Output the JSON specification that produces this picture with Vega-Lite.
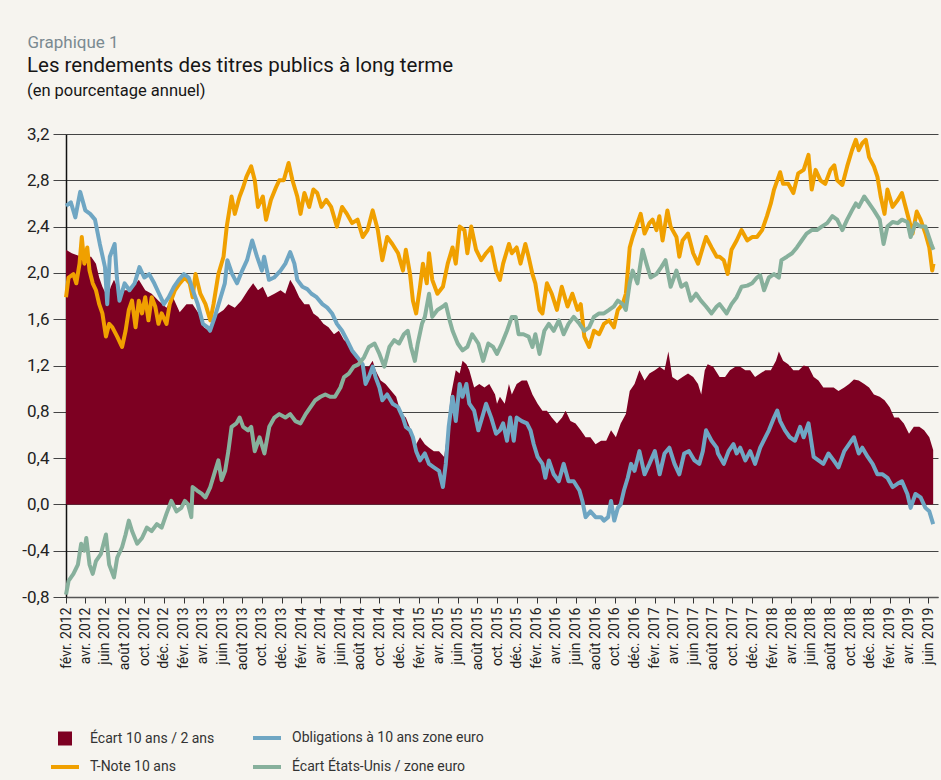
{
  "$schema": "https://vega.github.io/schema/vega-lite/v6.json",
  "width": 872,
  "height": 463,
  "autosize": {"type": "none"},
  "padding": {"left": 66, "top": 134, "right": 3, "bottom": 183},
  "background": "#f6f4ef",
  "title": {
    "text": "Les rendements des titres publics à long terme",
    "subtitle": "(en pourcentage annuel)",
    "anchor": "start",
    "frame": "group",
    "dx": -39,
    "offset": -66,
    "font": "Roboto",
    "fontSize": 20.5,
    "fontWeight": "normal",
    "color": "#161616",
    "subtitleFont": "Roboto",
    "subtitleFontSize": 16.5,
    "subtitleColor": "#161616",
    "subtitlePadding": 6
  },
  "datasets": {
    "ecart": [
      {"d":"2012-02-01","v":2.20},{"d":"2012-02-19","v":2.17},{"d":"2012-03-09","v":2.15},{"d":"2012-03-29","v":2.14},{"d":"2012-04-19","v":2.14},{"d":"2012-05-04","v":2.08},{"d":"2012-05-14","v":1.96},{"d":"2012-05-24","v":1.88},{"d":"2012-06-09","v":1.79},{"d":"2012-06-19","v":1.88},{"d":"2012-06-29","v":1.94},{"d":"2012-07-09","v":1.88},{"d":"2012-07-19","v":1.79},{"d":"2012-07-29","v":1.85},{"d":"2012-08-19","v":1.85},{"d":"2012-09-14","v":1.94},{"d":"2012-10-04","v":1.85},{"d":"2012-10-24","v":1.82},{"d":"2012-11-14","v":1.76},{"d":"2012-12-09","v":1.70},{"d":"2012-12-29","v":1.79},{"d":"2013-01-19","v":1.66},{"d":"2013-02-09","v":1.73},{"d":"2013-02-28","v":1.73},{"d":"2013-03-19","v":1.65},{"d":"2013-04-04","v":1.53},{"d":"2013-04-19","v":1.50},{"d":"2013-05-04","v":1.62},{"d":"2013-05-19","v":1.65},{"d":"2013-06-04","v":1.68},{"d":"2013-06-19","v":1.73},{"d":"2013-07-09","v":1.70},{"d":"2013-07-29","v":1.76},{"d":"2013-08-19","v":1.85},{"d":"2013-09-04","v":1.91},{"d":"2013-09-19","v":1.85},{"d":"2013-10-04","v":1.88},{"d":"2013-10-19","v":1.79},{"d":"2013-11-09","v":1.82},{"d":"2013-11-28","v":1.85},{"d":"2013-12-13","v":1.82},{"d":"2013-12-28","v":1.94},{"d":"2014-01-10","v":1.88},{"d":"2014-01-25","v":1.79},{"d":"2014-02-10","v":1.73},{"d":"2014-02-25","v":1.73},{"d":"2014-03-10","v":1.65},{"d":"2014-03-25","v":1.62},{"d":"2014-04-10","v":1.56},{"d":"2014-04-26","v":1.53},{"d":"2014-05-13","v":1.47},{"d":"2014-05-28","v":1.50},{"d":"2014-06-13","v":1.42},{"d":"2014-06-28","v":1.39},{"d":"2014-07-13","v":1.30},{"d":"2014-07-28","v":1.24},{"d":"2014-08-13","v":1.19},{"d":"2014-08-29","v":1.19},{"d":"2014-09-10","v":1.24},{"d":"2014-09-19","v":1.16},{"d":"2014-10-05","v":1.07},{"d":"2014-10-20","v":1.04},{"d":"2014-11-07","v":0.98},{"d":"2014-11-22","v":0.93},{"d":"2014-12-07","v":0.78},{"d":"2014-12-22","v":0.75},{"d":"2015-01-07","v":0.64},{"d":"2015-01-23","v":0.52},{"d":"2015-02-04","v":0.58},{"d":"2015-02-19","v":0.52},{"d":"2015-03-04","v":0.49},{"d":"2015-03-19","v":0.46},{"d":"2015-04-04","v":0.46},{"d":"2015-04-20","v":0.41},{"d":"2015-05-01","v":0.64},{"d":"2015-05-10","v":0.93},{"d":"2015-05-26","v":1.16},{"d":"2015-06-07","v":1.13},{"d":"2015-06-16","v":1.24},{"d":"2015-06-28","v":1.21},{"d":"2015-07-07","v":1.16},{"d":"2015-07-22","v":1.01},{"d":"2015-08-07","v":1.04},{"d":"2015-08-23","v":1.01},{"d":"2015-09-07","v":1.04},{"d":"2015-09-25","v":0.95},{"d":"2015-10-01","v":0.87},{"d":"2015-10-10","v":0.93},{"d":"2015-10-25","v":0.87},{"d":"2015-11-07","v":1.04},{"d":"2015-11-16","v":0.95},{"d":"2015-12-01","v":1.04},{"d":"2015-12-17","v":1.07},{"d":"2016-01-02","v":1.07},{"d":"2016-01-19","v":0.95},{"d":"2016-02-04","v":0.87},{"d":"2016-02-19","v":0.81},{"d":"2016-03-04","v":0.81},{"d":"2016-03-19","v":0.75},{"d":"2016-04-04","v":0.70},{"d":"2016-04-20","v":0.75},{"d":"2016-05-01","v":0.81},{"d":"2016-05-16","v":0.72},{"d":"2016-06-01","v":0.70},{"d":"2016-06-17","v":0.64},{"d":"2016-07-02","v":0.58},{"d":"2016-07-17","v":0.58},{"d":"2016-08-02","v":0.52},{"d":"2016-08-19","v":0.55},{"d":"2016-09-04","v":0.55},{"d":"2016-09-19","v":0.64},{"d":"2016-10-04","v":0.58},{"d":"2016-10-19","v":0.70},{"d":"2016-11-04","v":0.78},{"d":"2016-11-16","v":0.98},{"d":"2016-12-01","v":1.04},{"d":"2016-12-16","v":1.16},{"d":"2017-01-01","v":1.07},{"d":"2017-01-16","v":1.13},{"d":"2017-02-02","v":1.16},{"d":"2017-02-17","v":1.19},{"d":"2017-03-04","v":1.16},{"d":"2017-03-16","v":1.32},{"d":"2017-03-28","v":1.10},{"d":"2017-04-13","v":1.07},{"d":"2017-04-29","v":1.10},{"d":"2017-05-16","v":1.13},{"d":"2017-06-01","v":1.10},{"d":"2017-06-16","v":1.04},{"d":"2017-06-26","v":0.95},{"d":"2017-07-07","v":1.16},{"d":"2017-07-16","v":1.21},{"d":"2017-08-02","v":1.19},{"d":"2017-08-22","v":1.10},{"d":"2017-09-08","v":1.10},{"d":"2017-09-23","v":1.16},{"d":"2017-10-10","v":1.19},{"d":"2017-10-25","v":1.19},{"d":"2017-11-10","v":1.16},{"d":"2017-11-25","v":1.16},{"d":"2017-12-10","v":1.10},{"d":"2017-12-26","v":1.13},{"d":"2018-01-11","v":1.16},{"d":"2018-01-28","v":1.16},{"d":"2018-02-13","v":1.24},{"d":"2018-02-22","v":1.32},{"d":"2018-03-07","v":1.24},{"d":"2018-03-23","v":1.21},{"d":"2018-04-08","v":1.16},{"d":"2018-04-25","v":1.16},{"d":"2018-05-10","v":1.20},{"d":"2018-05-25","v":1.19},{"d":"2018-06-10","v":1.10},{"d":"2018-06-25","v":1.07},{"d":"2018-07-10","v":1.01},{"d":"2018-07-26","v":1.01},{"d":"2018-08-11","v":1.01},{"d":"2018-08-26","v":0.98},{"d":"2018-09-13","v":1.01},{"d":"2018-09-28","v":1.04},{"d":"2018-10-13","v":1.08},{"d":"2018-10-28","v":1.07},{"d":"2018-11-14","v":1.04},{"d":"2018-11-29","v":1.01},{"d":"2018-12-14","v":0.95},{"d":"2019-01-01","v":0.93},{"d":"2019-01-16","v":0.90},{"d":"2019-02-01","v":0.84},{"d":"2019-02-15","v":0.75},{"d":"2019-03-01","v":0.75},{"d":"2019-03-17","v":0.70},{"d":"2019-04-02","v":0.61},{"d":"2019-04-17","v":0.67},{"d":"2019-05-04","v":0.67},{"d":"2019-05-19","v":0.64},{"d":"2019-06-04","v":0.58},{"d":"2019-06-16","v":0.47}
    ],
    "tnote": [
      {"d":"2012-02-01","v":1.79},{"d":"2012-02-09","v":1.96},{"d":"2012-02-24","v":1.99},{"d":"2012-03-04","v":1.91},{"d":"2012-03-14","v":2.08},{"d":"2012-03-21","v":2.31},{"d":"2012-03-29","v":2.08},{"d":"2012-04-07","v":2.22},{"d":"2012-04-14","v":2.02},{"d":"2012-04-24","v":1.91},{"d":"2012-05-04","v":1.85},{"d":"2012-05-14","v":1.73},{"d":"2012-05-24","v":1.65},{"d":"2012-06-04","v":1.45},{"d":"2012-06-14","v":1.56},{"d":"2012-06-24","v":1.53},{"d":"2012-07-09","v":1.45},{"d":"2012-07-24","v":1.36},{"d":"2012-08-04","v":1.50},{"d":"2012-08-14","v":1.68},{"d":"2012-08-24","v":1.76},{"d":"2012-09-04","v":1.53},{"d":"2012-09-14","v":1.76},{"d":"2012-09-24","v":1.65},{"d":"2012-10-04","v":1.79},{"d":"2012-10-14","v":1.59},{"d":"2012-10-24","v":1.79},{"d":"2012-11-04","v":1.71},{"d":"2012-11-14","v":1.56},{"d":"2012-11-24","v":1.65},{"d":"2012-12-09","v":1.56},{"d":"2012-12-19","v":1.73},{"d":"2013-01-04","v":1.85},{"d":"2013-01-19","v":1.91},{"d":"2013-02-04","v":1.96},{"d":"2013-02-19","v":1.91},{"d":"2013-02-28","v":1.79},{"d":"2013-03-09","v":1.99},{"d":"2013-03-24","v":1.82},{"d":"2013-04-09","v":1.73},{"d":"2013-04-24","v":1.59},{"d":"2013-05-04","v":1.73},{"d":"2013-05-19","v":1.99},{"d":"2013-06-04","v":2.14},{"d":"2013-06-14","v":2.40},{"d":"2013-06-29","v":2.66},{"d":"2013-07-09","v":2.51},{"d":"2013-07-24","v":2.66},{"d":"2013-08-04","v":2.74},{"d":"2013-08-14","v":2.83},{"d":"2013-08-29","v":2.92},{"d":"2013-09-09","v":2.80},{"d":"2013-09-19","v":2.57},{"d":"2013-10-04","v":2.66},{"d":"2013-10-14","v":2.46},{"d":"2013-10-29","v":2.63},{"d":"2013-11-14","v":2.74},{"d":"2013-11-24","v":2.80},{"d":"2013-12-08","v":2.80},{"d":"2013-12-23","v":2.95},{"d":"2014-01-04","v":2.80},{"d":"2014-01-19","v":2.66},{"d":"2014-01-29","v":2.51},{"d":"2014-02-10","v":2.69},{"d":"2014-02-25","v":2.57},{"d":"2014-03-10","v":2.72},{"d":"2014-03-22","v":2.69},{"d":"2014-04-04","v":2.57},{"d":"2014-04-19","v":2.63},{"d":"2014-05-04","v":2.57},{"d":"2014-05-22","v":2.40},{"d":"2014-06-07","v":2.57},{"d":"2014-06-22","v":2.51},{"d":"2014-07-08","v":2.43},{"d":"2014-07-25","v":2.46},{"d":"2014-08-10","v":2.31},{"d":"2014-08-25","v":2.37},{"d":"2014-09-10","v":2.54},{"d":"2014-09-26","v":2.37},{"d":"2014-10-10","v":2.11},{"d":"2014-10-25","v":2.31},{"d":"2014-11-10","v":2.25},{"d":"2014-11-28","v":2.17},{"d":"2014-12-13","v":2.02},{"d":"2014-12-22","v":2.20},{"d":"2015-01-04","v":1.99},{"d":"2015-01-13","v":1.76},{"d":"2015-01-23","v":1.65},{"d":"2015-02-04","v":1.88},{"d":"2015-02-13","v":2.08},{"d":"2015-02-25","v":1.91},{"d":"2015-03-04","v":2.17},{"d":"2015-03-14","v":1.94},{"d":"2015-03-30","v":1.82},{"d":"2015-04-16","v":1.88},{"d":"2015-05-01","v":2.08},{"d":"2015-05-16","v":2.22},{"d":"2015-05-26","v":2.08},{"d":"2015-06-07","v":2.40},{"d":"2015-06-22","v":2.37},{"d":"2015-07-01","v":2.17},{"d":"2015-07-13","v":2.40},{"d":"2015-07-28","v":2.20},{"d":"2015-08-13","v":2.11},{"d":"2015-08-28","v":2.17},{"d":"2015-09-13","v":2.22},{"d":"2015-09-28","v":2.02},{"d":"2015-10-10","v":1.94},{"d":"2015-10-20","v":2.08},{"d":"2015-11-07","v":2.25},{"d":"2015-11-16","v":2.17},{"d":"2015-12-01","v":2.22},{"d":"2015-12-13","v":2.08},{"d":"2015-12-28","v":2.25},{"d":"2016-01-07","v":2.14},{"d":"2016-01-19","v":1.99},{"d":"2016-01-28","v":1.91},{"d":"2016-02-10","v":1.68},{"d":"2016-02-19","v":1.65},{"d":"2016-03-04","v":1.91},{"d":"2016-03-19","v":1.82},{"d":"2016-04-04","v":1.68},{"d":"2016-04-19","v":1.88},{"d":"2016-05-07","v":1.71},{"d":"2016-05-22","v":1.82},{"d":"2016-06-07","v":1.68},{"d":"2016-06-17","v":1.73},{"d":"2016-06-28","v":1.45},{"d":"2016-07-13","v":1.36},{"d":"2016-07-28","v":1.50},{"d":"2016-08-13","v":1.47},{"d":"2016-08-28","v":1.56},{"d":"2016-09-13","v":1.59},{"d":"2016-09-28","v":1.53},{"d":"2016-10-10","v":1.68},{"d":"2016-10-25","v":1.73},{"d":"2016-11-04","v":1.82},{"d":"2016-11-16","v":2.22},{"d":"2016-11-25","v":2.31},{"d":"2016-12-10","v":2.43},{"d":"2016-12-20","v":2.51},{"d":"2017-01-01","v":2.34},{"d":"2017-01-16","v":2.43},{"d":"2017-01-26","v":2.46},{"d":"2017-02-07","v":2.37},{"d":"2017-02-16","v":2.49},{"d":"2017-02-26","v":2.28},{"d":"2017-03-13","v":2.54},{"d":"2017-03-23","v":2.40},{"d":"2017-04-10","v":2.31},{"d":"2017-04-19","v":2.14},{"d":"2017-04-29","v":2.28},{"d":"2017-05-16","v":2.34},{"d":"2017-06-01","v":2.17},{"d":"2017-06-16","v":2.08},{"d":"2017-07-01","v":2.22},{"d":"2017-07-11","v":2.31},{"d":"2017-07-28","v":2.22},{"d":"2017-08-13","v":2.14},{"d":"2017-08-22","v":2.14},{"d":"2017-09-04","v":2.11},{"d":"2017-09-16","v":1.99},{"d":"2017-09-28","v":2.20},{"d":"2017-10-14","v":2.28},{"d":"2017-10-29","v":2.37},{"d":"2017-11-16","v":2.28},{"d":"2017-12-01","v":2.31},{"d":"2017-12-16","v":2.31},{"d":"2018-01-01","v":2.37},{"d":"2018-01-16","v":2.49},{"d":"2018-01-28","v":2.60},{"d":"2018-02-07","v":2.72},{"d":"2018-02-17","v":2.80},{"d":"2018-02-26","v":2.87},{"d":"2018-03-07","v":2.77},{"d":"2018-03-23","v":2.77},{"d":"2018-04-08","v":2.69},{"d":"2018-04-23","v":2.86},{"d":"2018-05-10","v":2.89},{"d":"2018-05-25","v":3.02},{"d":"2018-06-04","v":2.72},{"d":"2018-06-16","v":2.89},{"d":"2018-07-01","v":2.80},{"d":"2018-07-16","v":2.77},{"d":"2018-08-01","v":2.89},{"d":"2018-08-13","v":2.93},{"d":"2018-08-22","v":2.80},{"d":"2018-09-07","v":2.76},{"d":"2018-09-22","v":2.92},{"d":"2018-10-07","v":3.06},{"d":"2018-10-19","v":3.15},{"d":"2018-10-28","v":3.06},{"d":"2018-11-08","v":3.12},{"d":"2018-11-19","v":3.15},{"d":"2018-11-29","v":3.00},{"d":"2018-12-14","v":2.92},{"d":"2018-12-25","v":2.83},{"d":"2019-01-04","v":2.66},{"d":"2019-01-16","v":2.51},{"d":"2019-01-25","v":2.72},{"d":"2019-02-10","v":2.57},{"d":"2019-02-26","v":2.63},{"d":"2019-03-11","v":2.69},{"d":"2019-03-28","v":2.51},{"d":"2019-04-13","v":2.34},{"d":"2019-04-26","v":2.53},{"d":"2019-05-08","v":2.46},{"d":"2019-05-23","v":2.34},{"d":"2019-06-04","v":2.22},{"d":"2019-06-13","v":2.02},{"d":"2019-06-17","v":2.08}
    ],
    "euro": [
      {"d":"2012-02-01","v":2.58},{"d":"2012-02-16","v":2.61},{"d":"2012-03-01","v":2.48},{"d":"2012-03-16","v":2.70},{"d":"2012-04-01","v":2.54},{"d":"2012-04-16","v":2.51},{"d":"2012-05-01","v":2.46},{"d":"2012-05-16","v":2.25},{"d":"2012-06-01","v":2.05},{"d":"2012-06-08","v":1.73},{"d":"2012-06-16","v":2.14},{"d":"2012-07-01","v":2.25},{"d":"2012-07-08","v":1.96},{"d":"2012-07-16","v":1.76},{"d":"2012-08-01","v":1.91},{"d":"2012-08-16","v":1.85},{"d":"2012-09-01","v":1.91},{"d":"2012-09-16","v":2.05},{"d":"2012-10-01","v":1.96},{"d":"2012-10-16","v":1.99},{"d":"2012-11-01","v":1.91},{"d":"2012-11-16","v":1.82},{"d":"2012-12-01","v":1.73},{"d":"2012-12-16","v":1.79},{"d":"2013-01-01","v":1.88},{"d":"2013-01-16","v":1.94},{"d":"2013-02-01","v":1.99},{"d":"2013-02-16","v":1.96},{"d":"2013-03-01","v":1.85},{"d":"2013-03-16","v":1.73},{"d":"2013-04-01","v":1.56},{"d":"2013-04-16","v":1.53},{"d":"2013-04-23","v":1.50},{"d":"2013-05-08","v":1.62},{"d":"2013-05-23","v":1.76},{"d":"2013-06-08","v":1.91},{"d":"2013-06-16","v":2.11},{"d":"2013-07-01","v":1.99},{"d":"2013-07-16","v":1.91},{"d":"2013-08-01","v":2.02},{"d":"2013-08-16","v":2.11},{"d":"2013-09-01","v":2.28},{"d":"2013-09-16","v":2.14},{"d":"2013-10-01","v":2.02},{"d":"2013-10-08","v":2.14},{"d":"2013-10-23","v":1.94},{"d":"2013-11-08","v":1.96},{"d":"2013-11-28","v":2.02},{"d":"2013-12-13","v":2.08},{"d":"2013-12-28","v":2.18},{"d":"2014-01-10","v":2.08},{"d":"2014-01-19","v":1.94},{"d":"2014-02-04","v":1.88},{"d":"2014-02-19","v":1.86},{"d":"2014-03-04","v":1.82},{"d":"2014-03-20","v":1.79},{"d":"2014-04-07","v":1.73},{"d":"2014-04-22","v":1.70},{"d":"2014-05-07","v":1.65},{"d":"2014-05-22","v":1.56},{"d":"2014-06-07","v":1.50},{"d":"2014-06-22","v":1.42},{"d":"2014-07-08","v":1.33},{"d":"2014-07-25","v":1.27},{"d":"2014-08-10","v":1.21},{"d":"2014-08-19","v":1.04},{"d":"2014-08-29","v":1.10},{"d":"2014-09-10","v":1.19},{"d":"2014-09-19","v":1.10},{"d":"2014-10-01","v":1.01},{"d":"2014-10-10","v":0.90},{"d":"2014-10-25","v":0.95},{"d":"2014-11-11","v":0.87},{"d":"2014-11-28","v":0.84},{"d":"2014-12-13","v":0.75},{"d":"2014-12-22","v":0.67},{"d":"2015-01-04","v":0.64},{"d":"2015-01-13","v":0.58},{"d":"2015-01-23","v":0.46},{"d":"2015-02-04","v":0.38},{"d":"2015-02-19","v":0.44},{"d":"2015-03-04","v":0.35},{"d":"2015-03-19","v":0.32},{"d":"2015-04-04","v":0.29},{"d":"2015-04-16","v":0.15},{"d":"2015-04-25","v":0.35},{"d":"2015-05-04","v":0.67},{"d":"2015-05-16","v":0.93},{"d":"2015-05-26","v":0.72},{"d":"2015-06-07","v":1.04},{"d":"2015-06-16","v":0.93},{"d":"2015-06-28","v":1.04},{"d":"2015-07-07","v":0.87},{"d":"2015-07-22","v":0.81},{"d":"2015-08-04","v":0.64},{"d":"2015-08-19","v":0.78},{"d":"2015-08-28","v":0.87},{"d":"2015-09-13","v":0.75},{"d":"2015-09-28","v":0.61},{"d":"2015-10-10","v":0.64},{"d":"2015-10-20","v":0.70},{"d":"2015-11-01","v":0.55},{"d":"2015-11-11","v":0.75},{"d":"2015-11-22","v":0.55},{"d":"2015-12-01","v":0.75},{"d":"2015-12-17","v":0.72},{"d":"2016-01-02","v":0.70},{"d":"2016-01-13","v":0.64},{"d":"2016-01-23","v":0.52},{"d":"2016-02-04","v":0.41},{"d":"2016-02-19","v":0.35},{"d":"2016-02-28","v":0.23},{"d":"2016-03-10","v":0.38},{"d":"2016-03-25","v":0.26},{"d":"2016-04-10","v":0.20},{"d":"2016-04-25","v":0.35},{"d":"2016-05-10","v":0.20},{"d":"2016-05-26","v":0.20},{"d":"2016-06-13","v":0.12},{"d":"2016-06-22","v":0.03},{"d":"2016-07-02","v":-0.11},{"d":"2016-07-17","v":-0.06},{"d":"2016-08-02","v":-0.11},{"d":"2016-08-19","v":-0.11},{"d":"2016-08-28","v":-0.14},{"d":"2016-09-10","v":-0.11},{"d":"2016-09-19","v":0.03},{"d":"2016-09-29","v":-0.14},{"d":"2016-10-10","v":-0.03},{"d":"2016-10-19","v":0.00},{"d":"2016-10-29","v":0.12},{"d":"2016-11-10","v":0.23},{"d":"2016-11-20","v":0.35},{"d":"2016-12-01","v":0.29},{"d":"2016-12-16","v":0.46},{"d":"2017-01-01","v":0.26},{"d":"2017-01-16","v":0.35},{"d":"2017-02-02","v":0.46},{"d":"2017-02-17","v":0.26},{"d":"2017-03-04","v":0.44},{"d":"2017-03-19","v":0.49},{"d":"2017-04-04","v":0.35},{"d":"2017-04-19","v":0.26},{"d":"2017-05-04","v":0.44},{"d":"2017-05-19","v":0.46},{"d":"2017-06-05","v":0.38},{"d":"2017-06-20","v":0.35},{"d":"2017-07-01","v":0.46},{"d":"2017-07-11","v":0.64},{"d":"2017-07-28","v":0.55},{"d":"2017-08-13","v":0.49},{"d":"2017-08-17","v":0.44},{"d":"2017-09-04","v":0.35},{"d":"2017-09-19","v":0.46},{"d":"2017-10-04","v":0.52},{"d":"2017-10-14","v":0.44},{"d":"2017-10-25","v":0.49},{"d":"2017-11-10","v":0.38},{"d":"2017-11-25","v":0.46},{"d":"2017-12-10","v":0.35},{"d":"2017-12-26","v":0.49},{"d":"2018-01-11","v":0.58},{"d":"2018-01-22","v":0.64},{"d":"2018-02-07","v":0.75},{"d":"2018-02-17","v":0.81},{"d":"2018-02-26","v":0.72},{"d":"2018-03-13","v":0.64},{"d":"2018-03-28","v":0.58},{"d":"2018-04-13","v":0.55},{"d":"2018-04-29","v":0.67},{"d":"2018-05-10","v":0.58},{"d":"2018-05-25","v":0.70},{"d":"2018-06-10","v":0.41},{"d":"2018-06-25","v":0.38},{"d":"2018-07-10","v":0.35},{"d":"2018-07-26","v":0.44},{"d":"2018-08-11","v":0.38},{"d":"2018-08-26","v":0.32},{"d":"2018-09-13","v":0.46},{"d":"2018-09-28","v":0.52},{"d":"2018-10-13","v":0.58},{"d":"2018-10-28","v":0.44},{"d":"2018-11-08","v":0.49},{"d":"2018-11-25","v":0.41},{"d":"2018-12-10","v":0.35},{"d":"2018-12-25","v":0.26},{"d":"2019-01-10","v":0.26},{"d":"2019-01-25","v":0.23},{"d":"2019-02-10","v":0.15},{"d":"2019-02-26","v":0.18},{"d":"2019-03-11","v":0.20},{"d":"2019-03-28","v":0.09},{"d":"2019-04-07","v":-0.03},{"d":"2019-04-22","v":0.09},{"d":"2019-05-08","v":0.06},{"d":"2019-05-23","v":-0.03},{"d":"2019-06-04","v":-0.06},{"d":"2019-06-16","v":-0.17}
    ],
    "spread": [
      {"d":"2012-02-01","v":-0.78},{"d":"2012-02-09","v":-0.66},{"d":"2012-02-24","v":-0.60},{"d":"2012-03-09","v":-0.52},{"d":"2012-03-19","v":-0.34},{"d":"2012-03-29","v":-0.40},{"d":"2012-04-04","v":-0.29},{"d":"2012-04-14","v":-0.52},{"d":"2012-04-24","v":-0.60},{"d":"2012-05-04","v":-0.49},{"d":"2012-05-19","v":-0.43},{"d":"2012-06-04","v":-0.26},{"d":"2012-06-14","v":-0.52},{"d":"2012-06-29","v":-0.63},{"d":"2012-07-09","v":-0.46},{"d":"2012-07-24","v":-0.37},{"d":"2012-08-04","v":-0.26},{"d":"2012-08-14","v":-0.14},{"d":"2012-08-24","v":-0.23},{"d":"2012-09-09","v":-0.34},{"d":"2012-09-24","v":-0.29},{"d":"2012-10-09","v":-0.20},{"d":"2012-10-24","v":-0.23},{"d":"2012-11-09","v":-0.17},{"d":"2012-11-24","v":-0.20},{"d":"2012-12-09","v":-0.08},{"d":"2012-12-24","v":0.03},{"d":"2013-01-09","v":-0.06},{"d":"2013-01-24","v":-0.03},{"d":"2013-02-04","v":0.03},{"d":"2013-02-14","v":0.00},{"d":"2013-02-24","v":-0.11},{"d":"2013-02-28","v":0.15},{"d":"2013-03-14","v":0.12},{"d":"2013-03-29","v":0.09},{"d":"2013-04-09","v":0.06},{"d":"2013-04-24","v":0.15},{"d":"2013-05-09","v":0.29},{"d":"2013-05-19","v":0.38},{"d":"2013-05-29","v":0.21},{"d":"2013-06-09","v":0.29},{"d":"2013-06-19","v":0.46},{"d":"2013-06-29","v":0.67},{"d":"2013-07-14","v":0.70},{"d":"2013-07-24","v":0.75},{"d":"2013-08-04","v":0.67},{"d":"2013-08-19","v":0.64},{"d":"2013-08-29","v":0.67},{"d":"2013-09-09","v":0.46},{"d":"2013-09-24","v":0.58},{"d":"2013-10-09","v":0.44},{"d":"2013-10-24","v":0.67},{"d":"2013-11-09","v":0.75},{"d":"2013-11-24","v":0.78},{"d":"2013-12-13","v":0.75},{"d":"2013-12-28","v":0.78},{"d":"2014-01-13","v":0.72},{"d":"2014-01-29","v":0.70},{"d":"2014-02-14","v":0.78},{"d":"2014-03-01","v":0.84},{"d":"2014-03-16","v":0.90},{"d":"2014-04-01","v":0.93},{"d":"2014-04-16","v":0.95},{"d":"2014-05-01","v":0.93},{"d":"2014-05-16","v":0.93},{"d":"2014-06-02","v":1.01},{"d":"2014-06-13","v":1.10},{"d":"2014-06-28","v":1.13},{"d":"2014-07-13","v":1.19},{"d":"2014-07-28","v":1.21},{"d":"2014-08-14","v":1.27},{"d":"2014-08-29","v":1.36},{"d":"2014-09-16","v":1.39},{"d":"2014-10-01","v":1.30},{"d":"2014-10-16","v":1.19},{"d":"2014-11-01","v":1.36},{"d":"2014-11-16","v":1.42},{"d":"2014-12-01","v":1.39},{"d":"2014-12-16","v":1.47},{"d":"2014-12-28","v":1.50},{"d":"2015-01-07","v":1.36},{"d":"2015-01-19","v":1.24},{"d":"2015-01-28","v":1.39},{"d":"2015-02-10","v":1.56},{"d":"2015-02-19","v":1.62},{"d":"2015-03-04","v":1.82},{"d":"2015-03-14","v":1.62},{"d":"2015-03-30","v":1.68},{"d":"2015-04-16","v":1.71},{"d":"2015-04-25","v":1.73},{"d":"2015-05-07","v":1.59},{"d":"2015-05-16","v":1.50},{"d":"2015-06-01","v":1.39},{"d":"2015-06-16","v":1.33},{"d":"2015-07-01","v":1.36},{"d":"2015-07-16","v":1.47},{"d":"2015-08-04","v":1.39},{"d":"2015-08-19","v":1.24},{"d":"2015-09-04","v":1.39},{"d":"2015-09-19","v":1.36},{"d":"2015-10-01","v":1.30},{"d":"2015-10-16","v":1.39},{"d":"2015-11-01","v":1.50},{"d":"2015-11-16","v":1.62},{"d":"2015-11-28","v":1.62},{"d":"2015-12-07","v":1.47},{"d":"2015-12-22","v":1.47},{"d":"2016-01-07","v":1.45},{"d":"2016-01-19","v":1.36},{"d":"2016-01-28","v":1.47},{"d":"2016-02-10","v":1.30},{"d":"2016-02-25","v":1.50},{"d":"2016-03-10","v":1.56},{"d":"2016-03-25","v":1.50},{"d":"2016-04-10","v":1.59},{"d":"2016-04-25","v":1.47},{"d":"2016-05-10","v":1.56},{"d":"2016-05-26","v":1.62},{"d":"2016-06-13","v":1.56},{"d":"2016-06-28","v":1.50},{"d":"2016-07-13","v":1.53},{"d":"2016-07-28","v":1.62},{"d":"2016-08-13","v":1.65},{"d":"2016-08-28","v":1.65},{"d":"2016-09-13","v":1.68},{"d":"2016-09-28","v":1.71},{"d":"2016-10-10","v":1.76},{"d":"2016-10-25","v":1.73},{"d":"2016-11-04","v":1.68},{"d":"2016-11-16","v":1.91},{"d":"2016-11-25","v":2.02},{"d":"2016-12-10","v":1.91},{"d":"2016-12-26","v":2.20},{"d":"2017-01-07","v":2.08},{"d":"2017-01-20","v":1.96},{"d":"2017-02-07","v":1.99},{"d":"2017-02-22","v":2.05},{"d":"2017-03-07","v":2.11},{"d":"2017-03-23","v":1.88},{"d":"2017-04-10","v":2.02},{"d":"2017-04-25","v":1.88},{"d":"2017-05-10","v":1.91},{"d":"2017-05-25","v":1.76},{"d":"2017-06-10","v":1.82},{"d":"2017-06-25","v":1.76},{"d":"2017-07-11","v":1.71},{"d":"2017-07-28","v":1.65},{"d":"2017-08-13","v":1.71},{"d":"2017-08-22","v":1.73},{"d":"2017-09-13","v":1.65},{"d":"2017-09-28","v":1.73},{"d":"2017-10-14","v":1.79},{"d":"2017-10-29","v":1.88},{"d":"2017-11-16","v":1.89},{"d":"2017-12-01","v":1.91},{"d":"2017-12-16","v":1.96},{"d":"2017-12-26","v":1.98},{"d":"2018-01-07","v":1.85},{"d":"2018-01-22","v":1.96},{"d":"2018-02-07","v":1.99},{"d":"2018-02-22","v":1.96},{"d":"2018-03-02","v":2.11},{"d":"2018-03-19","v":2.14},{"d":"2018-04-04","v":2.17},{"d":"2018-04-19","v":2.22},{"d":"2018-05-04","v":2.28},{"d":"2018-05-19","v":2.34},{"d":"2018-06-04","v":2.37},{"d":"2018-06-20","v":2.37},{"d":"2018-07-05","v":2.40},{"d":"2018-07-22","v":2.43},{"d":"2018-08-07","v":2.49},{"d":"2018-08-22","v":2.46},{"d":"2018-09-07","v":2.37},{"d":"2018-09-22","v":2.46},{"d":"2018-10-07","v":2.54},{"d":"2018-10-19","v":2.60},{"d":"2018-10-28","v":2.57},{"d":"2018-11-14","v":2.66},{"d":"2018-11-29","v":2.60},{"d":"2018-12-14","v":2.54},{"d":"2019-01-01","v":2.46},{"d":"2019-01-13","v":2.25},{"d":"2019-01-25","v":2.40},{"d":"2019-02-10","v":2.44},{"d":"2019-02-26","v":2.43},{"d":"2019-03-11","v":2.46},{"d":"2019-03-28","v":2.44},{"d":"2019-04-07","v":2.31},{"d":"2019-04-22","v":2.43},{"d":"2019-05-08","v":2.40},{"d":"2019-05-23","v":2.40},{"d":"2019-06-10","v":2.25},{"d":"2019-06-17","v":2.20}
    ]
  },
  "encoding": {
    "x": {
      "field": "d",
      "type": "temporal",
      "scale": {
        "type": "utc",
        "domain": [{"year": 2012, "month": 2, "date": 1, "utc": true}, {"year": 2019, "month": 7, "date": 1, "utc": true}],
        "nice": false
      },
      "axis": {
        "title": null,
        "grid": false,
        "values": [
          {"year":2012,"month":2,"date":1,"utc":true},{"year":2012,"month":4,"date":1,"utc":true},{"year":2012,"month":6,"date":1,"utc":true},{"year":2012,"month":8,"date":1,"utc":true},{"year":2012,"month":10,"date":1,"utc":true},{"year":2012,"month":12,"date":1,"utc":true},
          {"year":2013,"month":2,"date":1,"utc":true},{"year":2013,"month":4,"date":1,"utc":true},{"year":2013,"month":6,"date":1,"utc":true},{"year":2013,"month":8,"date":1,"utc":true},{"year":2013,"month":10,"date":1,"utc":true},{"year":2013,"month":12,"date":1,"utc":true},
          {"year":2014,"month":2,"date":1,"utc":true},{"year":2014,"month":4,"date":1,"utc":true},{"year":2014,"month":6,"date":1,"utc":true},{"year":2014,"month":8,"date":1,"utc":true},{"year":2014,"month":10,"date":1,"utc":true},{"year":2014,"month":12,"date":1,"utc":true},
          {"year":2015,"month":2,"date":1,"utc":true},{"year":2015,"month":4,"date":1,"utc":true},{"year":2015,"month":6,"date":1,"utc":true},{"year":2015,"month":8,"date":1,"utc":true},{"year":2015,"month":10,"date":1,"utc":true},{"year":2015,"month":12,"date":1,"utc":true},
          {"year":2016,"month":2,"date":1,"utc":true},{"year":2016,"month":4,"date":1,"utc":true},{"year":2016,"month":6,"date":1,"utc":true},{"year":2016,"month":8,"date":1,"utc":true},{"year":2016,"month":10,"date":1,"utc":true},{"year":2016,"month":12,"date":1,"utc":true},
          {"year":2017,"month":2,"date":1,"utc":true},{"year":2017,"month":4,"date":1,"utc":true},{"year":2017,"month":6,"date":1,"utc":true},{"year":2017,"month":8,"date":1,"utc":true},{"year":2017,"month":10,"date":1,"utc":true},{"year":2017,"month":12,"date":1,"utc":true},
          {"year":2018,"month":2,"date":1,"utc":true},{"year":2018,"month":4,"date":1,"utc":true},{"year":2018,"month":6,"date":1,"utc":true},{"year":2018,"month":8,"date":1,"utc":true},{"year":2018,"month":10,"date":1,"utc":true},{"year":2018,"month":12,"date":1,"utc":true},
          {"year":2019,"month":2,"date":1,"utc":true},{"year":2019,"month":4,"date":1,"utc":true},{"year":2019,"month":6,"date":1,"utc":true}
        ],
        "labelExpr": "['janv.','févr.','mars','avr.','mai','juin','juil.','août','sept.','oct.','nov.','déc.'][utcmonth(datum.value)] + ' ' + utcyear(datum.value)",
        "labelAngle": 270,
        "labelFont": "Roboto",
        "labelFontSize": 14,
        "labelColor": "#222222",
        "labelPadding": 4,
        "labelOverlap": false,
        "labelFlush": false,
        "labelBound": false,
        "tickSize": 6,
        "tickColor": "#333333",
        "domainColor": "#555555",
        "domainWidth": 1.5
      }
    },
    "y": {
      "field": "v",
      "type": "quantitative",
      "scale": {"domain": [-0.8, 3.2], "nice": false, "zero": false},
      "axis": {
        "values": [-0.8, -0.4, 0, 0.4, 0.8, 1.2, 1.6, 2.0, 2.4, 2.8, 3.2],
        "labelExpr": "(datum.value < 0 ? '-' : '') + replace(format(abs(datum.value), '.1f'), '.', ',')",
        "labelFont": "Roboto",
        "labelFontSize": 17,
        "labelColor": "#222222",
        "labelPadding": 4,
        "tickSize": 13,
        "tickColor": "#444444",
        "domainColor": "#111111",
        "domainWidth": 1.5,
        "grid": true,
        "gridColor": "#444444",
        "gridWidth": 1,
        "title": "Graphique 1",
        "titleAngle": 0,
        "titleAlign": "left",
        "titleBaseline": "alphabetic",
        "titleX": -39,
        "titleY": -87,
        "titleFont": "Roboto",
        "titleFontSize": 17,
        "titleFontWeight": "normal",
        "titleColor": "#7b8a91"
      }
    }
  },
  "layer": [
    {
      "data": {"name": "ecart"},
      "mark": {"type": "area", "color": "#7d0022"},
      "encoding": {
        "y2": {"datum": 0},
        "color": {
          "datum": "Écart 10 ans / 2 ans",
          "type": "nominal",
          "scale": {
            "domain": ["Écart 10 ans / 2 ans", "T-Note 10 ans", "Obligations à 10 ans zone euro", "Écart États-Unis / zone euro"],
            "range": ["#7d0022", "#f0a000", "#6fa6c3", "#87b09c"]
          },
          "legend": {
            "title": null,
            "orient": "none",
            "legendX": -8,
            "legendY": 597,
            "columns": 2,
            "padding": 0,
            "rowPadding": 13,
            "columnPadding": 30,
            "symbolType": "stroke",
            "symbolSize": 784,
            "symbolStrokeWidth": 4,
            "labelFont": "Roboto",
            "labelFontSize": 14,
            "labelColor": "#333333",
            "labelOffset": 18,
            "labelLimit": 400,
            "encode": {
              "symbols": {
                "update": {
                  "shape": {"signal": "datum.value === 'Écart 10 ans / 2 ans' ? 'square' : 'stroke'"},
                  "size": {"signal": "datum.value === 'Écart 10 ans / 2 ans' ? 196 : 784"},
                  "fill": {"signal": "datum.value === 'Écart 10 ans / 2 ans' ? '#7d0022' : 'transparent'"},
                  "stroke": {"scale": "color", "field": "value"},
                  "strokeWidth": {"signal": "datum.value === 'Écart 10 ans / 2 ans' ? 0 : 4"},
                  "opacity": {"value": 1}
                }
              }
            }
          }
        }
      }
    },
    {
      "data": {"name": "tnote"},
      "mark": {"type": "line", "strokeWidth": 4, "strokeJoin": "round"},
      "encoding": {"color": {"datum": "T-Note 10 ans", "type": "nominal"}}
    },
    {
      "data": {"name": "euro"},
      "mark": {"type": "line", "strokeWidth": 4, "strokeJoin": "round"},
      "encoding": {"color": {"datum": "Obligations à 10 ans zone euro", "type": "nominal"}}
    },
    {
      "data": {"name": "spread"},
      "mark": {"type": "line", "strokeWidth": 4, "strokeJoin": "round"},
      "encoding": {"color": {"datum": "Écart États-Unis / zone euro", "type": "nominal"}}
    }
  ],
  "config": {
    "font": "Roboto",
    "view": {"stroke": null}
  }
}
